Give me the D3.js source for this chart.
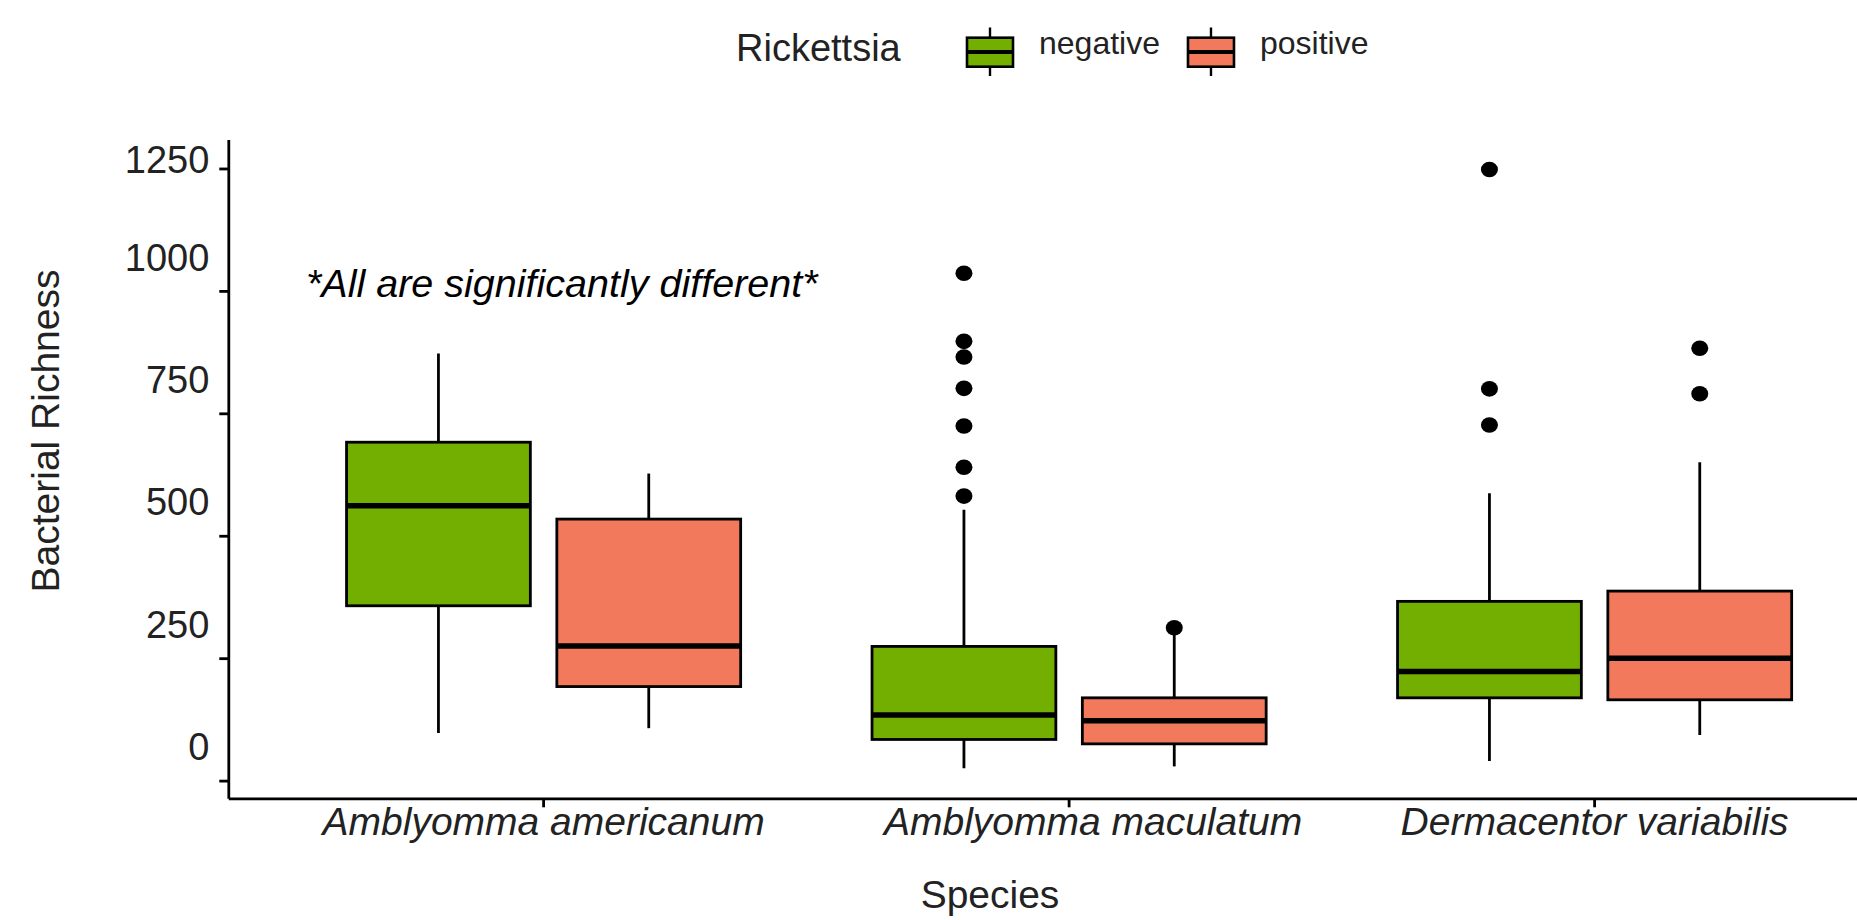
<!DOCTYPE html>
<html>
<head>
<meta charset="utf-8">
<script src="https://cdn.jsdelivr.net/npm/d3@7/dist/d3.min.js"></script>
<style>
  body { margin: 0; background: #fff; }
  text { font-family: "Liberation Sans", Arial, Helvetica, sans-serif; fill: #222; }
</style>
</head>
<body>
<div id="chart"></div>
<script>
// categories
const species = ["Amblyomma americanum", "Amblyomma maculatum", "Dermacentor variabilis"];
const rickettsia = ["negative", "positive"];
const yTicks = [0, 250, 500, 750, 1000, 1250];

// box stats (per species)
const negLower  = [97, 25, 40];
const negQ1     = [357, 84, 169];
const negMedian = [561, 134, 223];
const negQ3     = [691, 274, 366];
const negUpper  = [872, 553, 587];
const negOutliers = [[], [1036, 897, 865, 801, 724, 640, 581], [1248, 800, 726]];

const posLower  = [107, 29, 93];
const posQ1     = [192, 75, 165];
const posMedian = [275, 122, 250];
const posQ3     = [534, 169, 387];
const posUpper  = [627, 300, 650];
const posOutliers = [[], [312], [883, 790]];

const colors = {negative: "#72af00", positive: "#f2795b"};

let width = 1857, height = 920;
let svg = d3.select('#chart').append('svg')
  .attr('width', width)
  .attr('height', height);

let plotLeft = 228.3, plotTop = 139.5, plotBottom = 798.3;
let step = 525.5; // panel continues past the right edge (cropped)

// build the table for drawing
let boxes = [];
species.forEach((s, i) => {
  boxes.push({sp: s, grp: "negative", lo: negLower[i], q1: negQ1[i], med: negMedian[i], q3: negQ3[i], hi: negUpper[i], out: negOutliers[i]});
  boxes.push({sp: s, grp: "positive", lo: posLower[i], q1: posQ1[i], med: posMedian[i], q3: posQ3[i], hi: posUpper[i], out: posOutliers[i]});
});

let x = d3.scaleBand()
  .domain(species)
  .range([plotLeft, plotLeft + step * 3.2])
  .paddingInner(0.25)
  .paddingOuter(0.225);

let xs = d3.scaleBand()
  .domain(rickettsia)
  .range([0, x.bandwidth()])
  .paddingInner(0.126);

// y domain from data + 5% expansion like ggplot
let allVals = [];
boxes.forEach(b => { allVals.push(b.lo, b.hi); b.out.forEach(o => allVals.push(o)); });
let ext = d3.extent(allVals);
let pad = (ext[1] - ext[0]) * 0.05;
let y = d3.scaleLinear()
  .domain([ext[0] - pad, ext[1] + pad])
  .range([plotBottom, plotTop]);

// boxes
let g = svg.append('g');
let bx = g.selectAll('.box')
  .data(boxes)
  .enter()
  .append('g').classed('box', true)
  .attr('transform', d => `translate(${x(d.sp) + xs(d.grp)},0)`);

bx.append('line')
  .attr('x1', xs.bandwidth() / 2).attr('x2', xs.bandwidth() / 2)
  .attr('y1', d => y(d.lo)).attr('y2', d => y(d.hi))
  .attr('stroke', '#000').attr('stroke-width', 2.8);

bx.append('rect')
  .attr('x', 0)
  .attr('width', xs.bandwidth())
  .attr('y', d => y(d.q3))
  .attr('height', d => y(d.q1) - y(d.q3))
  .attr('fill', d => colors[d.grp])
  .attr('stroke', '#000').attr('stroke-width', 2.8);

bx.append('line')
  .attr('x1', 0).attr('x2', xs.bandwidth())
  .attr('y1', d => y(d.med)).attr('y2', d => y(d.med))
  .attr('stroke', '#000').attr('stroke-width', 5.5);

bx.selectAll('.out')
  .data(d => d.out)
  .enter()
  .append('ellipse').classed('out', true)
  .attr('cx', xs.bandwidth() / 2)
  .attr('cy', d => y(d))
  .attr('rx', 8.5).attr('ry', 7.8)
  .attr('fill', '#000');

// axes
let yAxis = svg.append('g')
  .attr('transform', `translate(${plotLeft},0)`)
  .call(d3.axisLeft(y).tickValues(yTicks).tickFormat(d3.format('d'))
    .tickSize(9).tickSizeOuter(0).tickPadding(10));
yAxis.select('.domain').attr('stroke', '#000').attr('stroke-width', 2.8);
yAxis.selectAll('.tick line').attr('stroke', '#000').attr('stroke-width', 2.8);
// labels in the figure sit above their ticks
yAxis.selectAll('.tick text')
  .style('font-size', '38px')
  .attr('transform', d => `translate(0,${d === 1250 ? -8 : -33})`);

let xAxis = svg.append('g')
  .attr('transform', `translate(0,${plotBottom})`)
  .call(d3.axisBottom(x).tickSize(9).tickSizeOuter(0).tickPadding(0));
xAxis.select('.domain').attr('stroke', '#000').attr('stroke-width', 2.8);
xAxis.selectAll('.tick line').attr('stroke', '#000').attr('stroke-width', 2.8);
xAxis.selectAll('.tick text')
  .style('font-size', '39px')
  .style('font-style', 'italic')
  .attr('dx', d => d === species[1] ? 24 : 0);

// titles
svg.append('text')
  .attr('transform', 'translate(59,431) rotate(-90)')
  .attr('text-anchor', 'middle')
  .style('font-size', '39px')
  .text('Bacterial Richness');

svg.append('text')
  .attr('x', 990).attr('y', 908)
  .attr('text-anchor', 'middle')
  .style('font-size', '39px')
  .text('Species');

svg.append('text')
  .attr('x', 306).attr('y', 297)
  .style('font-size', '39.5px')
  .style('font-style', 'italic')
  .style('fill', '#000')
  .text('*All are significantly different*');

// legend
let leg = svg.append('g');
leg.append('text')
  .attr('x', 736).attr('y', 61)
  .style('font-size', '38px')
  .text('Rickettsia');

let kx = 967;
rickettsia.forEach(r => {
  let k = leg.append('g').attr('transform', `translate(${kx},0)`);
  k.append('line').attr('x1', 23).attr('x2', 23).attr('y1', 27.5).attr('y2', 76)
    .attr('stroke', '#000').attr('stroke-width', 2.4);
  k.append('rect').attr('x', 0).attr('y', 37.7).attr('width', 46).attr('height', 29)
    .attr('fill', colors[r]).attr('stroke', '#000').attr('stroke-width', 2.6);
  k.append('line').attr('x1', 0).attr('x2', 46).attr('y1', 52).attr('y2', 52)
    .attr('stroke', '#000').attr('stroke-width', 4);
  let t = leg.append('text')
    .attr('x', kx + 72).attr('y', 54)
    .style('font-size', '32px')
    .text(r);
  kx = kx + 72 + t.node().getComputedTextLength() + 28;
});
</script>
</body>
</html>
